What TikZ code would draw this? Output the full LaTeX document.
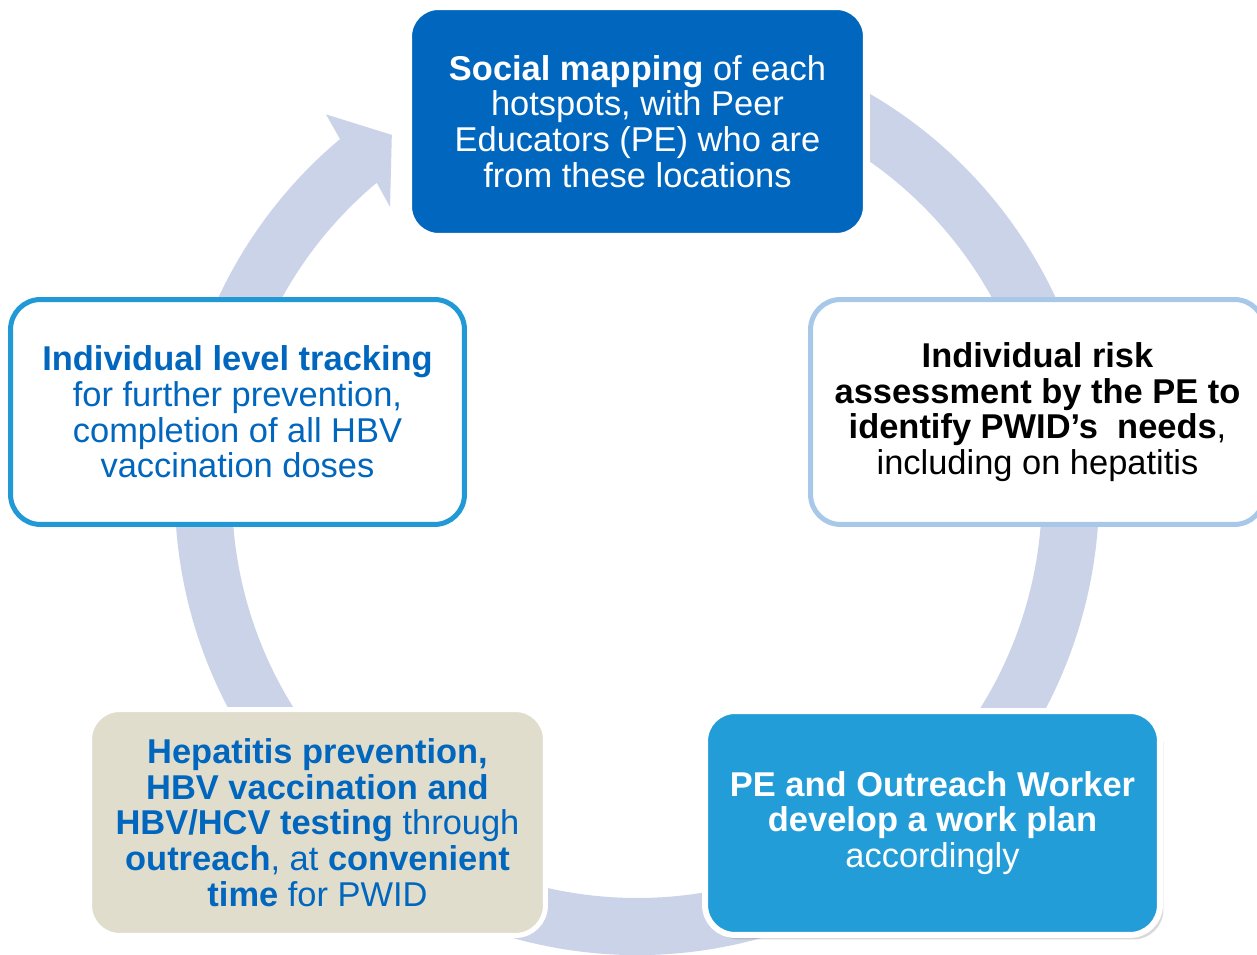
\documentclass[tikz,border=0pt]{standalone}
\usepackage{fontspec}
\setmainfont{Liberation Sans}
\usetikzlibrary{shadows}
\definecolor{mapblue}{RGB}{0,102,190}
\definecolor{planblue}{RGB}{34,157,216}
\definecolor{trackline}{RGB}{33,153,214}
\definecolor{riskline}{RGB}{168,200,233}
\definecolor{testbeige}{RGB}{224,221,205}
\definecolor{cycleblue}{RGB}{203,211,232}
\tikzstyle{stepbox} = [shape=rectangle, rounded corners=0.6cm, align=center, inner sep=0pt, font=\fontsize{19.6}{20.3}\selectfont]
\tikzstyle{solidbox} = [stepbox, draw=white, minimum width=9.12cm, minimum height=4.52cm]
\tikzstyle{linebox} = [stepbox, fill=white, line width=0.1cm, minimum width=9.08cm, minimum height=4.5cm]

\begin{document}
\begin{tikzpicture}[x=0.02cm,y=0.02cm]
\useasboundingbox (0,0) rectangle (1257,955);

\coordinate (hub) at (637,462);
\fill[cycleblue] ([shift={(hub)}]75:462) arc[start angle=75, end angle=-230, radius=462]
  -- ([shift={(hub)}]129.4:490) -- ([shift={(hub)}]124.4:434) -- ([shift={(hub)}]130.8:378)
  -- ([shift={(hub)}]130:405) arc[start angle=-230, end angle=75, radius=405] -- cycle;

\node[solidbox, fill=mapblue, text=white, line width=0.14cm, minimum width=9.16cm, minimum height=4.6cm] (mapping) at (637.5,833.5) {\textbf{Social mapping} of each\\hotspots, with Peer\\Educators (PE) who are\\from these locations};
\node[linebox, draw=riskline, text=black] (risk) at (1037.5,543) {\textbf{Individual risk}\\\textbf{assessment by the PE to}\\\textbf{identify PWID’s\ \ needs},\\including on hepatitis};
\node[solidbox, fill=planblue, text=white, line width=0.12cm, minimum width=9.1cm, minimum height=4.48cm, drop shadow={shadow xshift=0.07cm, shadow yshift=-0.09cm, opacity=0.3}] (plan) at (932.5,132) {\textbf{PE and Outreach Worker}\\\textbf{develop a work plan}\\accordingly};
\node[solidbox, fill=testbeige, text=mapblue, line width=0.1cm] (testing) at (317.5,132.5) {\textbf{Hepatitis prevention,}\\\textbf{HBV vaccination and}\\\textbf{HBV/HCV testing} through\\\textbf{outreach}, at \textbf{convenient}\\\textbf{time} for PWID};
\node[linebox, draw=trackline, text=mapblue] (tracking) at (237.5,543) {\textbf{Individual level tracking}\\for further prevention,\\completion of all HBV\\vaccination doses};
\end{tikzpicture}
\end{document}
